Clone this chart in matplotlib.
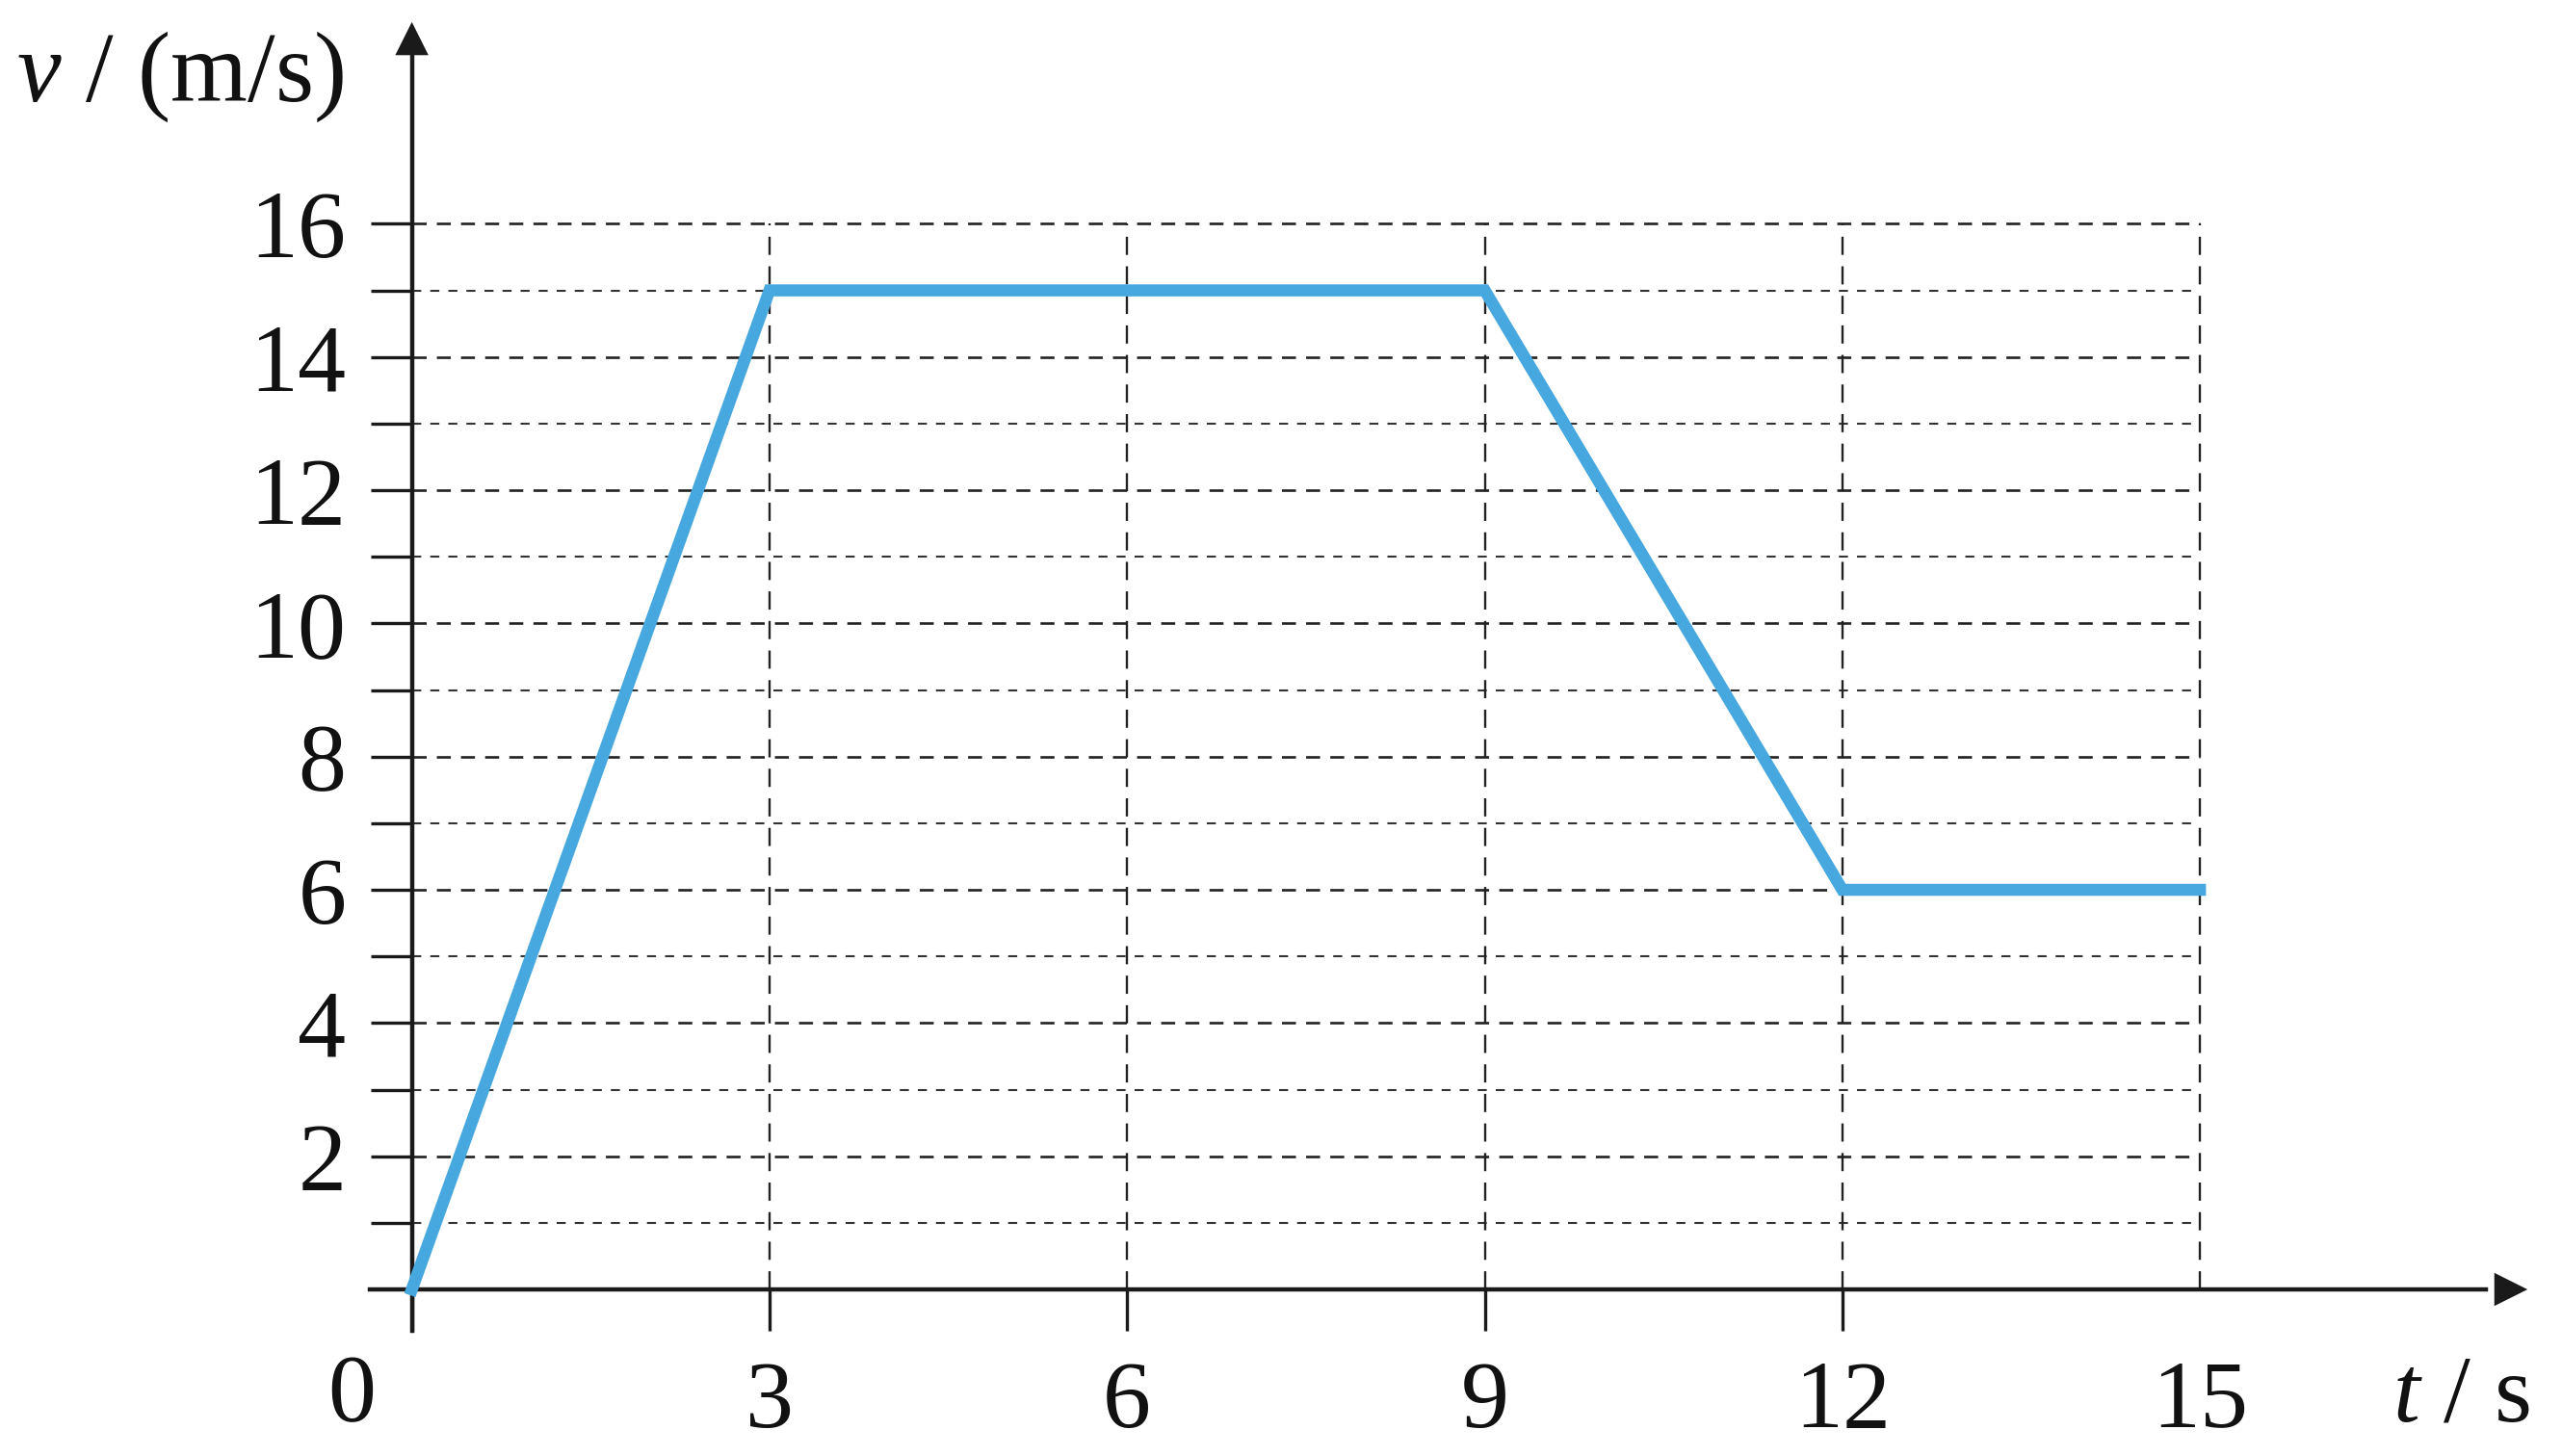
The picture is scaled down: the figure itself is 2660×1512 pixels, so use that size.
import matplotlib.pyplot as plt

plt.rcParams['font.family'] = ['Liberation Serif', 'DejaVu Serif']
plt.rcParams['mathtext.fontset'] = 'custom'
plt.rcParams['mathtext.rm'] = 'Liberation Serif'
plt.rcParams['mathtext.it'] = 'Liberation Serif:italic'

# data
t = [0, 3, 9, 12, 15]
v = [0, 15, 15, 6, 6]
x_ticks = [0, 3, 6, 9, 12, 15]
x_labels = ['', '3', '6', '9', '12', '15']
y_ticks = list(range(1, 17))
y_labels = [str(y) if y % 2 == 0 else '' for y in y_ticks]

fig = plt.figure(figsize=(26.6, 15.12), dpi=100)
ax = fig.add_axes([0, 0, 1, 1])
ax.set_xlim(-3.455, 18.037)
ax.set_ylim(-2.501, 19.36)

# grid
for y in y_ticks:
    if y % 2 == 0:
        ax.plot([0, 15], [y, y], color='#222222', lw=1.9, ls=(0, (5.5, 4)), zorder=1)
    else:
        ax.plot([0, 15], [y, y], color='#333333', lw=1.5, ls=(0, (4.5, 4.5)), zorder=1)
for x in x_ticks[1:]:
    ax.plot([x, x], [0, 16], color='#222222', lw=1.7, ls=(0, (8, 5)), zorder=1)

ax.plot(t, v, color='#46a8de', lw=9, solid_joinstyle='miter', zorder=3)

# axes with arrows
for s in ['top', 'right']:
    ax.spines[s].set_visible(False)
ax.spines['left'].set_position(('data', 0))
ax.spines['bottom'].set_position(('data', 0))
ax.spines['left'].set_bounds(-0.62, 18.6)
ax.spines['bottom'].set_bounds(-0.35, 17.4)
for s in ['left', 'bottom']:
    ax.spines[s].set_linewidth(3.2)
    ax.spines[s].set_color('#1a1a1a')
ax.annotate('', xy=(0, 19.07), xytext=(0, 18.4),
            arrowprops=dict(arrowstyle='-|>', color='#1a1a1a', lw=0, mutation_scale=62))
ax.annotate('', xy=(17.77, 0), xytext=(17.3, 0),
            arrowprops=dict(arrowstyle='-|>', color='#1a1a1a', lw=0, mutation_scale=62))

ax.set_xticks(x_ticks)
ax.set_xticklabels(x_labels)
ax.set_yticks(y_ticks)
ax.set_yticklabels(y_labels)
ax.tick_params(axis='both', direction='out', length=31, width=2.4, color='#1a1a1a',
               labelsize=72, labelcolor='#111111')
ax.tick_params(axis='x', pad=22)
ax.tick_params(axis='y', pad=18)
ax.xaxis.get_major_ticks()[-1].tick1line.set_visible(False)

ax.text(-0.505, -1.62, '0', fontsize=72, ha='center', va='center', color='#111111')
ax.text(17.77, -1.62, r'$t$ / s', fontsize=72, ha='right', va='center', color='#111111')
ax.text(-3.317, 17.84, r'$v$ / (m/s)', fontsize=74, ha='left', va='baseline', color='#111111')

fig.savefig('out.png', dpi=100)
